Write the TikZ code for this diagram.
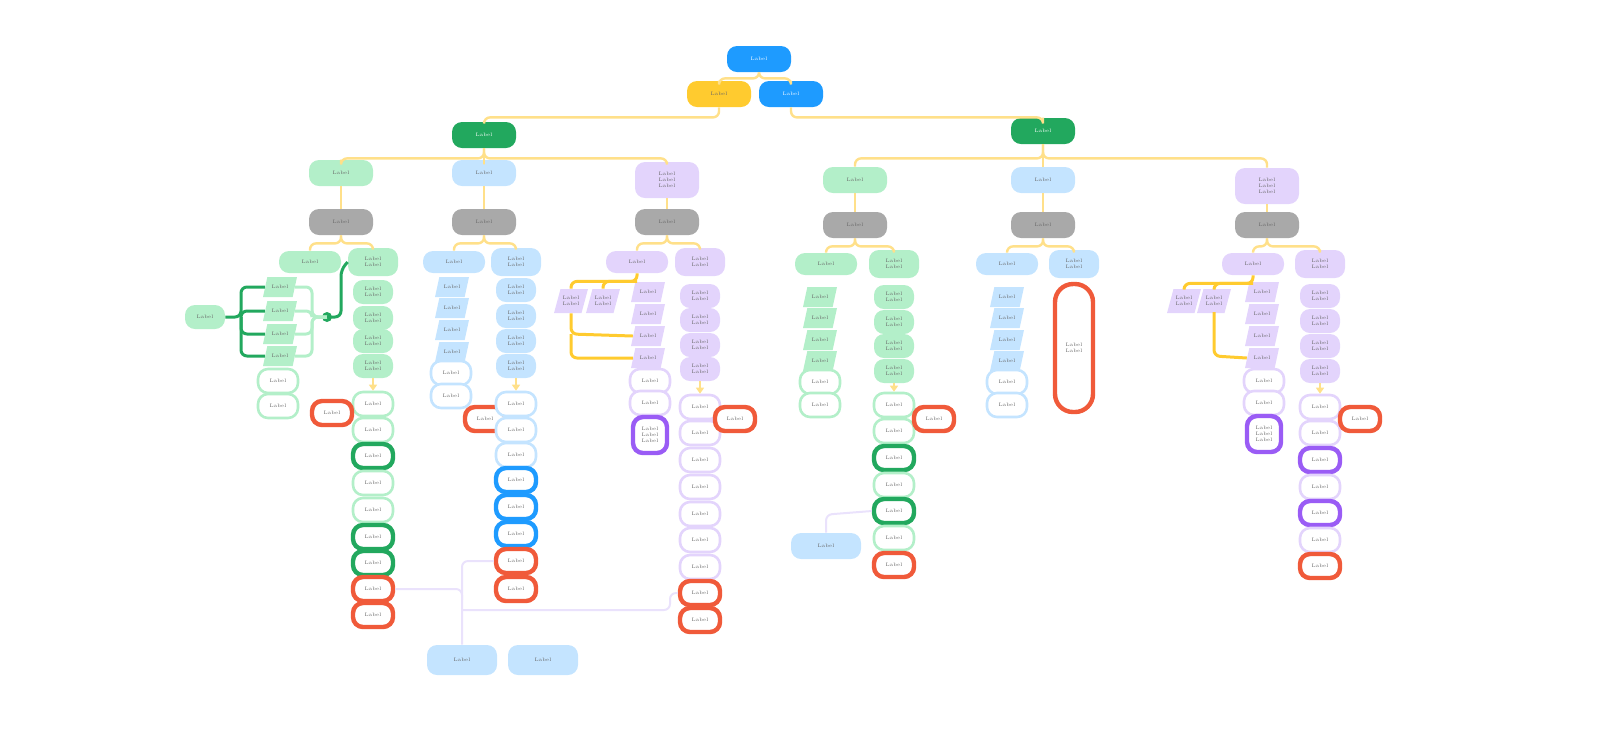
\documentclass[tikz,border=0pt]{standalone}
\usetikzlibrary{shapes.geometric,arrows.meta}
\definecolor{gf}{HTML}{B3EFC9}
\definecolor{gd}{HTML}{22A85E}
\definecolor{bf}{HTML}{C4E4FF}
\definecolor{bd}{HTML}{1E9BFF}
\definecolor{pf}{HTML}{E3D4FC}
\definecolor{pd}{HTML}{9A5CF5}
\definecolor{rd}{HTML}{F05A3A}
\definecolor{gr}{HTML}{A9A9A9}
\definecolor{yl}{HTML}{FFCB2F}
\definecolor{yc}{HTML}{FFE08A}
\definecolor{lv}{HTML}{EAE2FC}
\begin{document}
\begin{tikzpicture}[x=0.5pt,y=-0.5pt,
 every node/.style={font=\fontsize{2.5}{3}\selectfont,text=black!60,align=center,inner sep=1pt},
 box/.style={rounded corners=5pt,minimum width=20pt,minimum height=12pt},
 f/.style={box,fill=#1},
 o/.style={box,draw=#1,line width=1.3pt,fill=white},
 O/.style={box,draw=#1,line width=2.2pt,fill=white},
 big/.style={minimum width=32pt,minimum height=13pt},
 wide/.style={minimum width=31pt,minimum height=11pt},
 tall/.style={minimum width=25pt,minimum height=14pt},
 para/.style={trapezium,trapezium left angle=65,trapezium right angle=115,trapezium stretches=true,fill=#1,minimum width=17pt,minimum height=10pt},
 con/.style={draw=yc,line width=1.2pt,rounded corners=3pt},
 lav/.style={draw=lv,line width=1pt,rounded corners=3pt}]
\useasboundingbox (0,0) rectangle (1600,736);

% ---------- top ----------
\node[f=bd,big,text=white] (top) at (759,59) {Label};
\node[f=yl,big] (y) at (719,94) {Label};
\node[f=bd,big,text=white] (b) at (791,94) {Label};
\node[f=gd,big,text=white] (L) at (484,135) {Label};
\node[f=gd,big,text=white] (R) at (1043,131) {Label};
\draw[con] (top.south) -- ++(0,6) -| (y.north);
\draw[con] (top.south) -- ++(0,6) -| (b.north);
\draw[con] (y.south) -- ++(0,10) -| (L.north);
\draw[con] (b.south) -- ++(0,10) -| (R.north);

% ---------- sections ----------
\node[f=gf,big] (s1) at (341,173) {Label};
\node[f=bf,big] (s2) at (484,173) {Label};
\node[f=pf,big,minimum height=18pt] (s3) at (667,180) {Label\\Label\\Label};
\node[f=gf,big] (s4) at (855,180) {Label};
\node[f=bf,big] (s5) at (1043,180) {Label};
\node[f=pf,big,minimum height=18pt] (s6) at (1267,186) {Label\\Label\\Label};
\foreach \s in {1,2,3} \draw[con] (L.south) -- ++(0,10) -| (s\s.north);
\foreach \s in {4,5,6} \draw[con] (R.south) -- ++(0,14) -| (s\s.north);
\foreach \s/\x/\y in {1/341/222,2/484/222,3/667/222,4/855/225,5/1043/225,6/1267/225}{
  \node[f=gr,big] (g\s) at (\x,\y) {Label};
  \draw[con] (s\s.south) -- (g\s.north);}
\foreach \s/\c/\xl/\xr/\yy in {1/gf/310/373/262,2/bf/454/516/262,3/pf/637/700/262,4/gf/826/894/264,5/bf/1007/1074/264,6/pf/1253/1320/264}{
  \node[f=\c,wide] (l\s) at (\xl,\yy) {Label};
  \node[f=\c,tall] (r\s) at (\xr,\yy) {Label\\Label};
  \draw[con] (g\s.south) -- ++(0,8) -| (l\s.north);
  \draw[con] (g\s.south) -- ++(0,8) -| (r\s.north);}

% ---------- section 1 ----------
\foreach \y [count=\i] in {287,311,334,356} \node[para=gf] (p1\i) at (280,\y) {Label};
\node[o=gf] (w11) at (278,381) {Label};
\node[o=gf] (w12) at (278,406) {Label};
\foreach \y [count=\i] in {292,318,341,366} \node[f=gf] (a1\i) at (373,\y) {Label\\Label};
\foreach \y/\c/\t [count=\i] in {404/gf/o,430/gf/o,456/gd/O,483/gf/o,510/gf/o,537/gd/O,563/gd/O,589/rd/O,615/rd/O} \node[\t=\c] (c1\i) at (373,\y) {Label};
\draw[-{Triangle[length=3pt,width=4pt]},draw=yc,fill=yc,line width=1pt] (a14.south) -- (c11.north);
\node[O=rd] (x1) at (332,413) {Label};
\node[f=gf] (start) at (205,317) {Label};
\draw[draw=gd,line width=1.5pt,rounded corners=3pt] (start.east) -- (241,317) |- (p11.west);
\foreach \i in {2,3,4} \draw[draw=gd,line width=1.5pt,rounded corners=3pt] (241,317) |- (p1\i.west);
\fill[gd] (327,317) circle (5);
\foreach \i in {1,2,3,4} \draw[draw=gf,line width=1.5pt,rounded corners=3pt] (p1\i.east) -| (312,317) -- (327,317);
\draw[draw=gd,line width=1.5pt,rounded corners=3pt] (327,317) -| (341,270) -- (r1.west);

% ---------- section 2 ----------
\foreach \y [count=\i] in {287,308,330,352} \node[para=bf] (p2\i) at (452,\y) {Label};
\node[o=bf] (w21) at (451,373) {Label};
\node[o=bf] (w22) at (451,396) {Label};
\foreach \y [count=\i] in {290,316,341,366} \node[f=bf] (a2\i) at (516,\y) {Label\\Label};
\node[O=rd] (x2) at (485,419) {Label};
\foreach \y/\c/\t [count=\i] in {404/bf/o,430/bf/o,455/bf/o,480/bd/O,507/bd/O,534/bd/O,561/rd/O,589/rd/O} \node[\t=\c] (c2\i) at (516,\y) {Label};
\draw[-{Triangle[length=3pt,width=4pt]},draw=yc,fill=yc,line width=1pt] (a24.south) -- (c21.north);

% ---------- section 3 ----------
\foreach \y [count=\i] in {292,314,336,358} \node[para=pf] (p3\i) at (648,\y) {Label};
\node[para=pf,minimum height=12pt] (q31) at (571,301) {Label\\Label};
\node[para=pf,minimum height=12pt] (q32) at (603,301) {Label\\Label};
\draw[draw=yl,line width=1.5pt,rounded corners=3pt] (l3.south) -- ++(0,8) -| (q31.north);
\draw[draw=yl,line width=1.5pt,rounded corners=3pt] (l3.south) ++(0,8) -| (q32.north);
\draw[draw=yl,line width=1.5pt,rounded corners=3pt] (q31.south) -- (571,334) -- (p33.west);
\draw[draw=yl,line width=1.5pt,rounded corners=3pt] (571,334) -- (571,358) -- (p34.west);
\node[o=pf] (w31) at (650,381) {Label};
\node[o=pf] (w32) at (650,403) {Label};
\node[O=pd,minimum width=17pt,minimum height=18pt] (w33) at (650,435) {Label\\Label\\Label};
\foreach \y [count=\i] in {296,320,345,369} \node[f=pf] (a3\i) at (700,\y) {Label\\Label};
\foreach \y/\c/\t [count=\i] in {407/pf/o,433/pf/o,460/pf/o,487/pf/o,514/pf/o,540/pf/o,567/pf/o,593/rd/O,620/rd/O} \node[\t=\c] (c3\i) at (700,\y) {Label};
\draw[-{Triangle[length=3pt,width=4pt]},draw=yc,fill=yc,line width=1pt] (a34.south) -- (c31.north);
\node[O=rd] (x3) at (735,419) {Label};

% ---------- section 4 ----------
\foreach \y [count=\i] in {297,318,340,361} \node[para=gf] (p4\i) at (820,\y) {Label};
\node[o=gf] (w41) at (820,382) {Label};
\node[o=gf] (w42) at (820,405) {Label};
\foreach \y [count=\i] in {297,322,346,371} \node[f=gf] (a4\i) at (894,\y) {Label\\Label};
\foreach \y/\c/\t [count=\i] in {405/gf/o,431/gf/o,458/gd/O,485/gf/o,511/gd/O,538/gf/o,565/rd/O} \node[\t=\c] (c4\i) at (894,\y) {Label};
\draw[-{Triangle[length=3pt,width=4pt]},draw=yc,fill=yc,line width=1pt] (a44.south) -- (c41.north);
\node[O=rd] (x4) at (934,419) {Label};
\node[f=bf,minimum width=35pt,minimum height=13pt] (n4) at (826,546) {Label};
\draw[lav] (n4.north) -- ++(0,-18) -- (c45.west);

% ---------- section 5 ----------
\foreach \y [count=\i] in {297,318,340,361} \node[para=bf] (p5\i) at (1007,\y) {Label};
\node[o=bf] (w51) at (1007,382) {Label};
\node[o=bf] (w52) at (1007,405) {Label};
\node[O=rd,minimum width=19pt,minimum height=64pt,rounded corners=9pt] (x5) at (1074,348) {Label\\Label};

% ---------- section 6 ----------
\foreach \y [count=\i] in {292,314,336,358} \node[para=pf] (p6\i) at (1262,\y) {Label};
\node[para=pf,minimum height=12pt] (q61) at (1184,301) {Label\\Label};
\node[para=pf,minimum height=12pt] (q62) at (1214,301) {Label\\Label};
\draw[draw=yl,line width=1.5pt,rounded corners=3pt] (l6.south) -- ++(0,8) -| (q61.north);
\draw[draw=yl,line width=1.5pt,rounded corners=3pt] (l6.south) ++(0,8) -| (q62.north);
\draw[draw=yl,line width=1.5pt,rounded corners=3pt] (1214,312) -- (1214,356) -- (p64.west);
\node[o=pf] (w61) at (1264,381) {Label};
\node[o=pf] (w62) at (1264,403) {Label};
\node[O=pd,minimum width=17pt,minimum height=18pt] (w63) at (1264,434) {Label\\Label\\Label};
\foreach \y [count=\i] in {296,321,346,371} \node[f=pf] (a6\i) at (1320,\y) {Label\\Label};
\foreach \y/\c/\t [count=\i] in {407/pf/o,433/pf/o,460/pd/O,487/pf/o,513/pd/O,540/pf/o,566/rd/O} \node[\t=\c] (c6\i) at (1320,\y) {Label};
\draw[-{Triangle[length=3pt,width=4pt]},draw=yc,fill=yc,line width=1pt] (a64.south) -- (c61.north);
\node[O=rd] (x6) at (1360,419) {Label};

% ---------- bottom ----------
\node[f=bf,minimum width=35pt,minimum height=15pt] (bt1) at (462,660) {Label};
\node[f=bf,minimum width=35pt,minimum height=15pt] (bt2) at (543,660) {Label};
\draw[lav] (c18.east) -- (462,589) -- (bt1.north);
\draw[lav] (c27.west) -- (462,561) -- (462,600);
\draw[lav] (c38.west) -- (670,593) |- (462,610);
\end{tikzpicture}
\end{document}
